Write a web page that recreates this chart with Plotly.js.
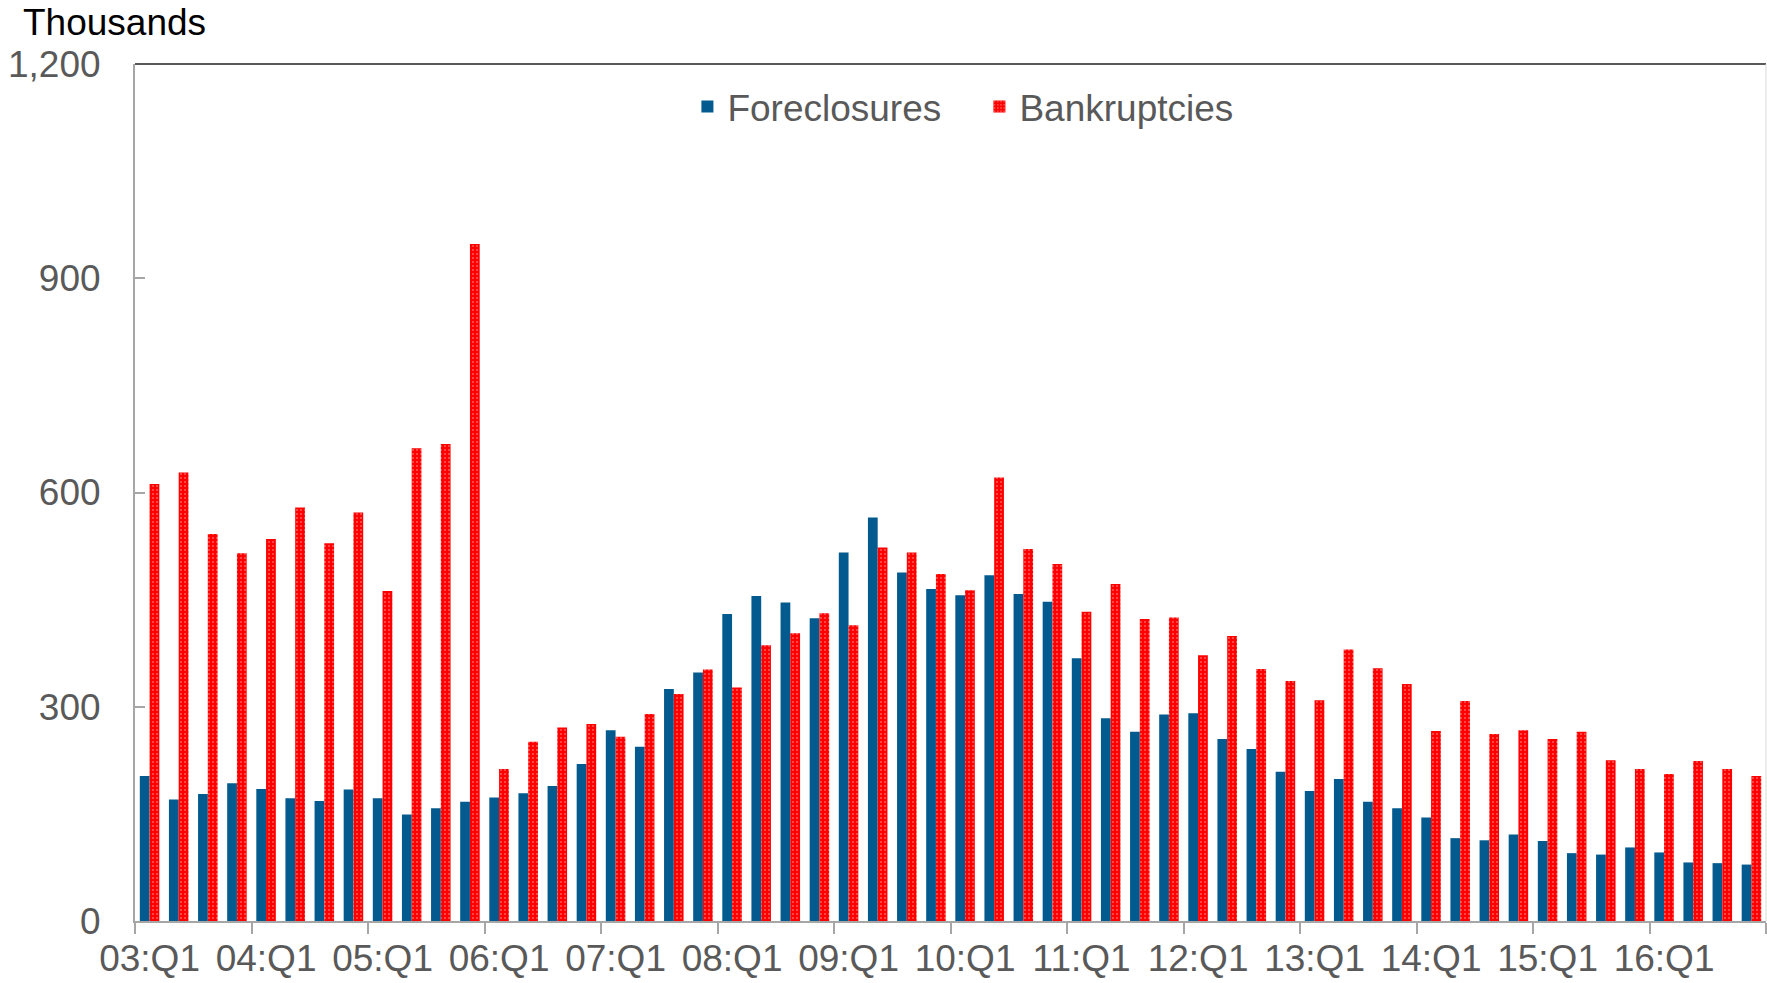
<!DOCTYPE html>
<html>
<head>
<meta charset="utf-8">
<script src="https://cdn.plot.ly/plotly-3.0.1.min.js"></script>
<style>
  html, body { margin: 0; padding: 0; background: #fff; }
  #plotArea { width: 1767px; height: 983px; }
</style>
</head>
<body>
<div id="plotArea"></div>
<script>
// quarterly counts, thousands, 2003:Q1 - 2016:Q4
var quarters = [
  "03:Q1","03:Q2","03:Q3","03:Q4","04:Q1","04:Q2","04:Q3","04:Q4",
  "05:Q1","05:Q2","05:Q3","05:Q4","06:Q1","06:Q2","06:Q3","06:Q4",
  "07:Q1","07:Q2","07:Q3","07:Q4","08:Q1","08:Q2","08:Q3","08:Q4",
  "09:Q1","09:Q2","09:Q3","09:Q4","10:Q1","10:Q2","10:Q3","10:Q4",
  "11:Q1","11:Q2","11:Q3","11:Q4","12:Q1","12:Q2","12:Q3","12:Q4",
  "13:Q1","13:Q2","13:Q3","13:Q4","14:Q1","14:Q2","14:Q3","14:Q4",
  "15:Q1","15:Q2","15:Q3","15:Q4","16:Q1","16:Q2","16:Q3","16:Q4"
];
var foreclosures = [
  203,170,178,193, 185,172,168,184, 172,149,158,167, 173,179,189,220,
  267,244,325,348, 430,455,446,424, 516,565,488,465, 456,484,458,447,
  368,284,265,289, 291,255,241,209, 182,199,167,158, 145,116,113,121,
  112,95,93,103, 96,82,81,79
];
var bankruptcies = [
  612,628,542,515, 535,579,529,572, 462,662,668,948, 213,251,271,276,
  258,290,318,352, 327,386,403,431, 414,523,516,486, 463,621,521,500,
  433,472,423,425, 372,399,353,336, 309,380,354,332, 266,308,262,267,
  255,265,225,213, 206,224,213,203
];
var tickLabels = ["03:Q1","04:Q1","05:Q1","06:Q1","07:Q1","08:Q1","09:Q1",
                  "10:Q1","11:Q1","12:Q1","13:Q1","14:Q1","15:Q1","16:Q1"];

// bar centres sit in the middle of each quarter slot
var xPos = quarters.map(function(q, i) { return i + 0.5; });
var boundaryTicks = [];
for (var i = 0; i <= quarters.length; i += 4) boundaryTicks.push(i);
var labelTicks = tickLabels.map(function(t) { return quarters.indexOf(t) + 0.5; });

var gray = "#595959";
var font = "Liberation Sans, Arial, sans-serif";
var fs = 37;

var trace1 = {
  x: xPos, y: foreclosures, name: "Foreclosures", type: "bar",
  marker: {color: "#035a8e"},
  hovertext: quarters
};
var trace2 = {
  x: xPos, y: bankruptcies, name: "Bankruptcies", type: "bar",
  marker: {
    color: "#ff0000",
    pattern: {shape: ".", fgcolor: "#ff5a5a", bgcolor: "#ff0000", size: 4, solidity: 0.2}
  },
  hovertext: quarters
};
// empty trace so the label axis gets drawn
var labelTrace = {x: [], y: [], xaxis: "x2", type: "scatter", showlegend: false};

var data = [trace1, trace2, labelTrace];

var layout = {
  width: 1767, height: 983,
  margin: {l: 135, r: 1, t: 64, b: 62},
  paper_bgcolor: "#fff", plot_bgcolor: "#fff",
  font: {family: font, size: fs, color: gray},
  barmode: "group", bargap: 0.33, bargroupgap: 0,
  title: {
    text: "Thousands", font: {family: font, size: fs, color: "#000"},
    xref: "container", yref: "container", x: 0.013, xanchor: "left", y: 0.978, yanchor: "middle"
  },
  xaxis: {
    range: [0, quarters.length], tickmode: "array", tickvals: boundaryTicks,
    showticklabels: false, ticks: "outside", ticklen: 11, tickwidth: 2, tickcolor: "#a6a6a6",
    showline: true, linecolor: "#a6a6a6", linewidth: 2, showgrid: false, zeroline: false
  },
  xaxis2: {
    overlaying: "x", anchor: "y", side: "bottom",
    range: [0, quarters.length], tickmode: "array", tickvals: labelTicks, ticktext: tickLabels,
    ticks: "", showline: false, showgrid: false, zeroline: false,
    tickfont: {family: font, size: fs, color: gray}, ticklabelstandoff: 12
  },
  yaxis: {
    range: [0, 1200], tickmode: "array", tickvals: [0, 300, 600, 900, 1200], tickformat: ",d",
    ticks: "inside", ticklen: 10, tickwidth: 2, tickcolor: "#a6a6a6",
    showline: true, linecolor: "#a6a6a6", linewidth: 2, showgrid: false, zeroline: false,
    tickfont: {family: font, size: fs, color: gray}, ticklabelstandoff: 25
  },
  legend: {
    orientation: "h", x: 0.3387, xanchor: "left", y: 0.95, yanchor: "middle",
    entrywidth: 247, entrywidthmode: "pixels",
    font: {family: font, size: fs, color: gray}, bgcolor: "rgba(0,0,0,0)"
  },
  shapes: [
    {type: "line", xref: "paper", yref: "paper", x0: 0, x1: 1, y0: 1, y1: 1,
     line: {color: gray, width: 2}},
    {type: "line", xref: "paper", yref: "paper", x0: 1, x1: 1, y0: 0, y1: 1,
     line: {color: "#d9d9d9", width: 1}}
  ]
};

Plotly.newPlot("plotArea", data, layout, {displayModeBar: false});
</script>
</body>
</html>
